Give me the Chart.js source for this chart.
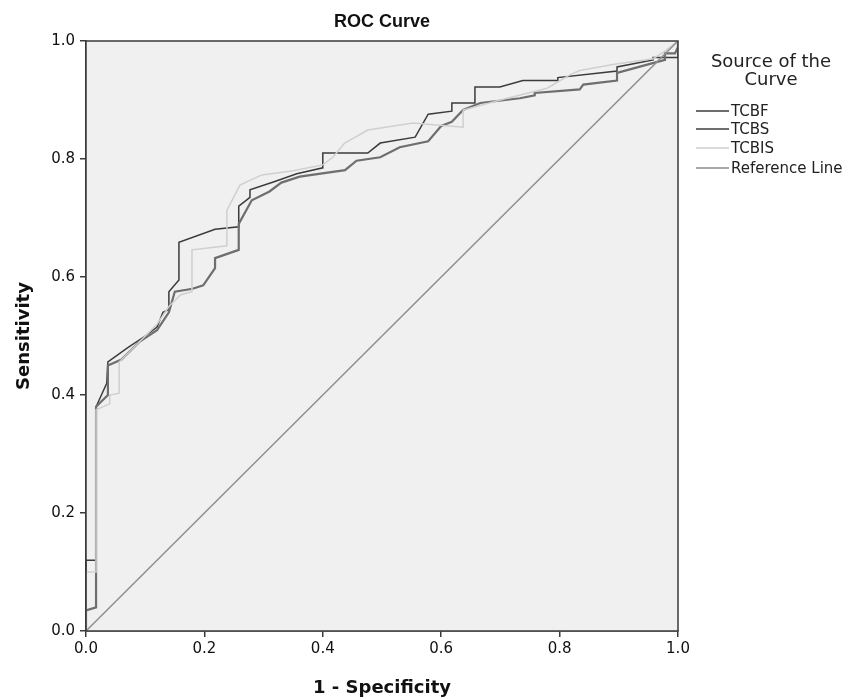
<!DOCTYPE html>
<html>
<head>
<meta charset="utf-8">
<script src="https://cdn.jsdelivr.net/npm/chart.js@4"></script>
<style>
  body { margin: 0; background: #fff; }
  #wrap { width: 861px; height: 699px; }
</style>
</head>
<body>
<div id="wrap"><canvas id="roc"></canvas></div>
<script>
// ROC points: [1 - specificity, sensitivity]
const tcbf = [
  [0, 0], [0, 0.12], [0.017, 0.12], [0.017, 0.38], [0.035, 0.42], [0.037, 0.456],
  [0.07, 0.48], [0.10, 0.50], [0.12, 0.515], [0.13, 0.54], [0.14, 0.545], [0.14, 0.575],
  [0.157, 0.595], [0.157, 0.659], [0.218, 0.681], [0.258, 0.685], [0.258, 0.72],
  [0.277, 0.735], [0.277, 0.748], [0.319, 0.762], [0.356, 0.775], [0.40, 0.785],
  [0.40, 0.81], [0.476, 0.81], [0.497, 0.827], [0.556, 0.837], [0.578, 0.876],
  [0.618, 0.881], [0.618, 0.895], [0.657, 0.895], [0.657, 0.922], [0.699, 0.922],
  [0.738, 0.933], [0.797, 0.933], [0.797, 0.938], [0.897, 0.949], [0.897, 0.956],
  [0.958, 0.968], [0.958, 0.972], [1, 0.972], [1, 1]
];
const tcbs = [
  [0, 0], [0, 0.035], [0.017, 0.04], [0.017, 0.38], [0.037, 0.40], [0.037, 0.45],
  [0.06, 0.46], [0.09, 0.49], [0.12, 0.51], [0.14, 0.54], [0.15, 0.575], [0.18, 0.58],
  [0.198, 0.586], [0.218, 0.615], [0.218, 0.632], [0.258, 0.646], [0.258, 0.69],
  [0.28, 0.73], [0.31, 0.745], [0.33, 0.76], [0.361, 0.77], [0.4375, 0.781],
  [0.457, 0.797], [0.497, 0.803], [0.53, 0.82], [0.578, 0.83], [0.60, 0.856],
  [0.618, 0.863], [0.637, 0.883], [0.666, 0.895], [0.733, 0.903], [0.758, 0.908],
  [0.758, 0.912], [0.834, 0.918], [0.84, 0.926], [0.897, 0.933], [0.897, 0.946],
  [0.948, 0.96], [0.978, 0.968], [0.978, 0.979], [0.995, 0.979], [1, 0.99], [1, 1]
];
const tcbis = [
  [0, 0], [0, 0.10], [0.017, 0.10], [0.017, 0.375], [0.04, 0.385], [0.04, 0.40],
  [0.056, 0.403], [0.056, 0.456], [0.08, 0.48], [0.10, 0.50], [0.12, 0.52],
  [0.14, 0.55], [0.16, 0.57], [0.179, 0.575], [0.179, 0.646], [0.238, 0.653],
  [0.238, 0.713], [0.26, 0.756], [0.297, 0.773], [0.35, 0.78], [0.40, 0.79],
  [0.417, 0.803], [0.437, 0.827], [0.476, 0.849], [0.552, 0.861], [0.637, 0.854],
  [0.637, 0.883], [0.70, 0.90], [0.779, 0.92], [0.818, 0.943], [0.834, 0.95],
  [0.89, 0.96], [0.958, 0.97], [0.978, 0.983], [1, 1]
];
const refLine = [[0, 0], [1, 1]];

const seriesNames = ['TCBF', 'TCBS', 'TCBIS', 'Reference Line'];
const seriesColors = ['#3b3b3b', '#6e6e6e', '#cfcfcf', '#8e8e8e'];
const seriesWidths = [1.5, 2.2, 1.5, 1.5];
const tickValues = [0, 0.2, 0.4, 0.6, 0.8, 1.0];

const toXY = arr => arr.map(p => ({ x: p[0], y: p[1] }));
const allData = [tcbf, tcbs, tcbis, refLine];

// plot background + frame
const framePlugin = {
  id: 'frame',
  beforeDatasetsDraw(chart) {
    const { ctx, chartArea: a } = chart;
    ctx.save();
    ctx.fillStyle = '#f0f0f0';
    ctx.fillRect(a.left, a.top, a.right - a.left, a.bottom - a.top);
    ctx.restore();
  },
  afterDatasetsDraw(chart) {
    const { ctx, chartArea: a } = chart;
    ctx.save();
    ctx.strokeStyle = '#3a3a3a';
    ctx.lineWidth = 1.5;
    ctx.strokeRect(a.left, a.top, a.right - a.left, a.bottom - a.top);
    // title centred over the plot
    ctx.fillStyle = '#111';
    ctx.font = 'bold 18px "Liberation Sans"';
    ctx.textAlign = 'center';
    ctx.textBaseline = 'middle';
    ctx.fillText('ROC Curve', (a.left + a.right) / 2, 22);
    ctx.restore();
  }
};

// legend on the right, SPSS style
const legendPlugin = {
  id: 'sideLegend',
  afterDraw(chart) {
    const ctx = chart.ctx;
    ctx.save();
    ctx.fillStyle = '#222';
    ctx.font = '18px "DejaVu Sans"';
    ctx.textAlign = 'center';
    ctx.textBaseline = 'middle';
    ctx.fillText('Source of the', 771, 62);
    ctx.fillText('Curve', 771, 80);
    ctx.font = '15px "DejaVu Sans"';
    ctx.textAlign = 'left';
    const rows = [111, 129, 148, 168];
    seriesNames.forEach((name, i) => {
      ctx.strokeStyle = seriesColors[i];
      ctx.lineWidth = seriesWidths[i];
      ctx.beginPath();
      ctx.moveTo(696, rows[i]);
      ctx.lineTo(729, rows[i]);
      ctx.stroke();
      ctx.fillStyle = '#222';
      ctx.fillText(name, 731, rows[i] + 1);
    });
    ctx.restore();
  }
};

const ctxRoc = document.getElementById('roc').getContext('2d');
const rocChart = new Chart(ctxRoc, {
  type: 'scatter',
  data: {
    datasets: seriesNames.map((name, i) => ({
      label: name,
      data: toXY(allData[i]),
      showLine: true,
      borderColor: seriesColors[i],
      borderWidth: seriesWidths[i],
      pointRadius: 0,
      tension: 0,
      fill: false
    })).reverse()
  },
  options: {
    responsive: true,
    maintainAspectRatio: false,
    animation: false,
    layout: { padding: { top: 41, right: 183, left: 0, bottom: 0 } },
    plugins: {
      legend: { display: false },
      tooltip: { enabled: false },
      title: { display: false }
    },
    scales: {
      x: {
        type: 'linear',
        min: 0,
        max: 1,
        afterFit: s => { s.height = 68; },
        afterBuildTicks: s => { s.ticks = tickValues.map(v => ({ value: v })); },
        ticks: {
          color: '#111',
          font: { family: 'DejaVu Sans', size: 15 },
          padding: 3,
          maxRotation: 0,
          callback: v => Number(v).toFixed(1)
        },
        grid: { display: true, drawOnChartArea: false, drawTicks: true, tickLength: 6, color: '#3a3a3a', lineWidth: 1.5 },
        border: { display: true, color: '#3a3a3a', width: 1.5 },
        title: {
          display: true,
          text: '1 - Specificity',
          color: '#111',
          font: { family: 'DejaVu Sans', size: 18, weight: 'bold' },
          padding: { top: 10, bottom: 0 }
        }
      },
      y: {
        type: 'linear',
        min: 0,
        max: 1,
        afterFit: s => { s.width = 86; },
        afterBuildTicks: s => { s.ticks = tickValues.map(v => ({ value: v })); },
        ticks: {
          color: '#111',
          font: { family: 'DejaVu Sans', size: 15 },
          padding: 5,
          callback: v => Number(v).toFixed(1)
        },
        grid: { display: true, drawOnChartArea: false, drawTicks: true, tickLength: 6, color: '#3a3a3a', lineWidth: 1.5 },
        border: { display: true, color: '#3a3a3a', width: 1.5 },
        title: {
          display: true,
          text: 'Sensitivity',
          color: '#111',
          font: { family: 'DejaVu Sans', size: 18, weight: 'bold' },
          padding: { top: 14, bottom: 0 }
        }
      }
    }
  },
  plugins: [framePlugin, legendPlugin]
});
</script>
</body>
</html>
